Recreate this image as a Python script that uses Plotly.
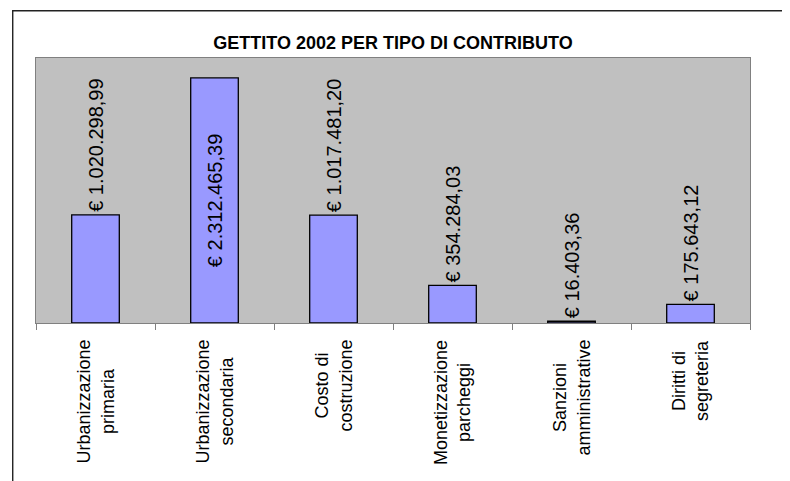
import plotly.graph_objects as go

TITLE = "GETTITO 2002 PER TIPO DI CONTRIBUTO"
CATEGORIES = [
    "Urbanizzazione primaria",
    "Urbanizzazione secondaria",
    "Costo di costruzione",
    "Monetizzazione parcheggi",
    "Sanzioni amministrative",
    "Diritti di segreteria",
]
TICK_LABELS = [
    "Urbanizzazione<br>primaria",
    "Urbanizzazione<br>secondaria",
    "Costo di<br>costruzione",
    "Monetizzazione<br>parcheggi",
    "Sanzioni<br>amministrative",
    "Diritti di<br>segreteria",
]
VALUES = [1020298.99, 2312465.39, 1017481.20, 354284.03, 16403.36, 175643.12]
LABEL_POSITIONS = ["outside", "inside", "outside", "outside", "outside", "outside"]


def euro(v):
    s = f"{v:,.2f}"
    s = s.replace(",", "#").replace(".", ",").replace("#", ".")
    return "€ " + s


FONT = "Liberation Sans, Arial, sans-serif"

fig = go.Figure(
    go.Bar(
        x=CATEGORIES,
        y=VALUES,
        text=[euro(v) for v in VALUES],
        textposition=LABEL_POSITIONS,
        insidetextanchor="middle",
        textangle=-90,
        constraintext="none",
        cliponaxis=False,
        textfont=dict(family=FONT, size=20, color="black"),
        marker=dict(color="#9999FF", line=dict(color="black", width=1.3)),
        hoverinfo="skip",
    )
)

for cat, lab in zip(CATEGORIES, TICK_LABELS):
    fig.add_annotation(
        x=cat, xref="x", y=-0.057, yref="paper",
        text=lab, textangle=-90, showarrow=False,
        xanchor="center", yanchor="top", align="center",
        font=dict(family=FONT, size=18, color="black"),
    )

# outer chart-area border
fig.add_shape(
    type="rect", xref="paper", yref="paper",
    x0=-0.0326, x1=1.2, y0=-0.8, y1=1.1785,
    line=dict(color="#222222", width=1.4), fillcolor="rgba(0,0,0,0)", layer="below",
)

fig.update_layout(
    width=790, height=481,
    margin=dict(l=28, r=48, t=50, b=166),
    paper_bgcolor="white",
    plot_bgcolor="#C0C0C0",
    bargap=0.6,
    showlegend=False,
    title=dict(
        text="<b>" + TITLE + "</b>", x=0.5, xref="paper",
        y=(481 - 35) / 481, yanchor="middle", xanchor="center",
        font=dict(family=FONT, size=18, color="black"),
    ),
    xaxis=dict(
        showticklabels=False, ticks="outside", tickson="boundaries",
        ticklen=6, tickcolor="#808080", tickwidth=1.3,
        showline=True, linecolor="#808080", linewidth=1.3, mirror=True,
        showgrid=False, zeroline=False,
    ),
    yaxis=dict(
        range=[0, 2500000], showticklabels=False, ticks="",
        showline=True, linecolor="#808080", linewidth=1.3, mirror=True,
        showgrid=False, zeroline=False,
    ),
)

fig.write_html("out.html")
